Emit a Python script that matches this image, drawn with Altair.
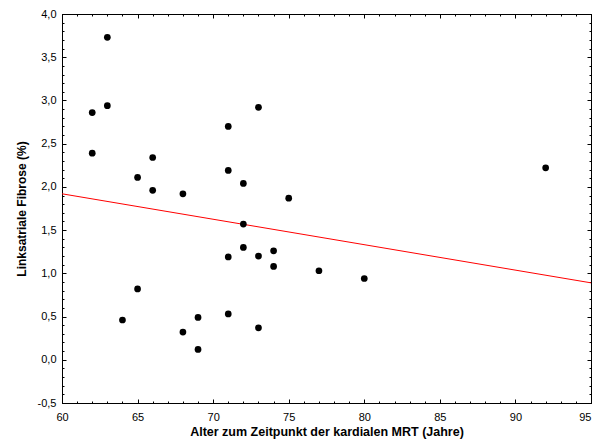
import altair as alt
import pandas as pd

# Data
age = [62, 63, 63, 62, 66, 65, 66, 68, 71, 73, 71, 72, 75, 72, 92, 72, 71, 73, 74, 74,
       65, 64, 69, 71, 68, 73, 69, 77, 80]
fibrosis = [2.86, 3.73, 2.94, 2.39, 2.34, 2.11, 1.96, 1.92, 2.70, 2.92, 2.19, 2.04, 1.87,
            1.57, 2.22, 1.30, 1.19, 1.20, 1.26, 1.08, 0.82, 0.46, 0.49, 0.53, 0.32, 0.37,
            0.12, 1.03, 0.94]

fit_age = [60, 95]
fit_fibrosis = [1.92, 0.89]

x_major = [60, 65, 70, 75, 80, 85, 90, 95]
x_minor = list(range(60, 96))
y_major = [-0.5, 0.0, 0.5, 1.0, 1.5, 2.0, 2.5, 3.0, 3.5, 4.0]
y_minor = [round(-0.5 + 0.1 * i, 1) for i in range(46)]

pts = pd.DataFrame({"age": age, "fib": fibrosis})
fit = pd.DataFrame({"age": fit_age, "fib": fit_fibrosis})

FONT = "Liberation Sans"
xs = alt.Scale(domain=[60, 95], nice=False, zero=False)
ys = alt.Scale(domain=[-0.5, 4.0], nice=False, zero=False)

lab_expr = "replace(replace(format(datum.value, '.1f'), '.', ','), '\u2212', '-')"


def tick_axis(orient, values, size):
    return alt.Axis(orient=orient, values=values, labels=False, domain=False, grid=False,
                    ticks=True, tickSize=size, offset=-size, tickColor="black",
                    tickWidth=1, title=None)


points = alt.Chart(pts).mark_circle(color="black", size=45, opacity=1).encode(
    x=alt.X("age:Q", scale=xs,
            axis=alt.Axis(orient="bottom", values=x_major, ticks=False, domain=False,
                          grid=False, labelFont=FONT, labelFontSize=11, labelColor="black",
                          labelPadding=8,
                          labelAlign={"condition": {"test": "datum.value >= 95", "value": "right"},
                                      "value": "center"},
                          title="Alter zum Zeitpunkt der kardialen MRT (Jahre)",
                          titleFont=FONT, titleFontSize=12.5, titleFontWeight="bold",
                          titleColor="black", titlePadding=3)),
    y=alt.Y("fib:Q", scale=ys,
            axis=alt.Axis(orient="left", values=y_major, ticks=False, domain=False,
                          grid=False, labelFont=FONT, labelFontSize=11, labelColor="black",
                          labelPadding=6, labelExpr=lab_expr,
                          title="Linksatriale Fibrose (%)", titleFont=FONT,
                          titleFontSize=12, titleFontWeight="bold", titleColor="black",
                          titlePadding=9)),
)

line = alt.Chart(fit).mark_line(color="#ff0000", strokeWidth=1).encode(
    x=alt.X("age:Q", scale=xs, axis=tick_axis("bottom", x_minor, 2)),
    y=alt.Y("fib:Q", scale=ys, axis=tick_axis("left", y_minor, 2)),
)

major_bl = alt.Chart(fit).mark_point(opacity=0).encode(
    x=alt.X("age:Q", scale=xs, axis=tick_axis("bottom", x_major, 4)),
    y=alt.Y("fib:Q", scale=ys, axis=tick_axis("left", y_major, 4)),
)

minor_tr = alt.Chart(fit).mark_point(opacity=0).encode(
    x=alt.X("age:Q", scale=xs, axis=tick_axis("top", x_minor, 2)),
    y=alt.Y("fib:Q", scale=ys, axis=tick_axis("right", y_minor, 2)),
)

major_tr = alt.Chart(fit).mark_point(opacity=0).encode(
    x=alt.X("age:Q", scale=xs, axis=tick_axis("top", x_major, 4)),
    y=alt.Y("fib:Q", scale=ys, axis=tick_axis("right", y_major, 4)),
)

chart = alt.layer(line, major_bl, minor_tr, major_tr, points).resolve_axis(
    x="independent", y="independent"
).properties(
    width=529, height=389,
    autosize=alt.AutoSizeParams(type="none"),
    padding={"left": 54, "top": 6, "right": 1, "bottom": 36},
    background="white",
).configure_view(stroke="black", strokeWidth=1)

chart.save("out.html", embed_options={"renderer": "svg", "actions": False})
